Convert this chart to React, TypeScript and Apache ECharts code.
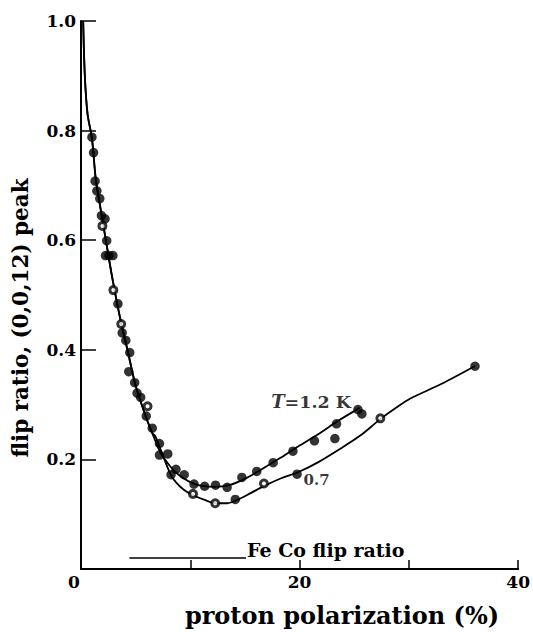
import React, { useEffect, useRef } from "react";
import * as echarts from "echarts";

// x: proton polarization (%), y: flip ratio
const steepCurve: number[][] = [
  [0.2, 1.0], [0.35, 0.9], [0.6, 0.83], [1.0, 0.786], [1.36, 0.71], [1.81, 0.655],
  [2.35, 0.591], [2.9, 0.527], [3.62, 0.454], [4.25, 0.4], [4.98, 0.336],
  [5.88, 0.281], [6.52, 0.248],
];
const upperBranch: number[][] = [
  [7.24, 0.2135], [8.14, 0.188], [9.05, 0.17], [10.41, 0.155], [12.22, 0.15],
  [13.57, 0.153], [14.93, 0.164], [16.29, 0.179], [18.1, 0.201], [19.9, 0.224],
  [21.7, 0.246], [23.5, 0.27], [25.5, 0.294],
];
const lowerBranch: number[][] = [
  [6.79, 0.2427], [7.51, 0.206], [8.33, 0.168], [9.32, 0.146], [10.23, 0.135],
  [11.31, 0.126], [12.31, 0.12], [13.39, 0.12], [14.3, 0.126], [15.57, 0.139],
  [16.92, 0.153], [18.37, 0.166], [19.91, 0.177], [21.72, 0.195], [23.53, 0.217],
  [25.52, 0.243], [27.42, 0.274], [28.96, 0.296], [30.14, 0.311], [33.0, 0.338],
  [36.02, 0.37],
];
const filledPoints: number[][] = [
  [1.0, 0.788], [1.15, 0.76], [1.29, 0.708], [1.45, 0.69], [1.72, 0.676],
  [1.87, 0.645], [2.2, 0.639], [2.35, 0.599], [2.24, 0.572], [2.56, 0.572],
  [2.92, 0.572], [3.38, 0.484], [3.77, 0.431], [4.1, 0.417], [4.46, 0.395],
  [4.37, 0.36], [4.91, 0.34], [5.13, 0.321], [5.46, 0.313], [5.97, 0.279],
  [6.52, 0.257], [7.18, 0.229], [7.18, 0.208], [7.94, 0.21], [8.24, 0.172],
  [8.69, 0.182], [9.44, 0.172], [10.34, 0.155], [11.31, 0.151], [12.31, 0.153],
  [13.37, 0.149], [14.72, 0.167], [16.08, 0.178], [17.58, 0.194], [19.39, 0.215],
  [21.36, 0.234], [23.38, 0.265], [25.34, 0.291], [25.7, 0.283], [14.12, 0.127],
  [19.77, 0.173], [23.23, 0.238], [36.05, 0.37],
];
const openPoints: number[][] = [
  [1.96, 0.626], [2.96, 0.509], [3.68, 0.447], [6.09, 0.297], [10.25, 0.137],
  [12.28, 0.12], [16.74, 0.156], [27.39, 0.275],
];
const feCoLine: number[][] = [[4.43, 0.02], [15.1, 0.02]];
const xTickLabels = ["0", "20", "40"];
const yTickLabels = ["0.2", "0.4", "0.6", "0.8", "1.0"];

const FONT = "DejaVu Serif";

export default function App() {
  const ref = useRef<HTMLDivElement>(null);
  useEffect(() => {
    const chart = echarts.init(ref.current!, null, { renderer: "svg" });
    chart.setOption({
      animation: false,
      backgroundColor: "#fff",
      grid: { left: 81, top: 21, width: 441, height: 548 },
      xAxis: {
        type: "value",
        min: 0,
        max: 40,
        interval: 10,
        axisLine: { lineStyle: { color: "#000", width: 2 } },
        axisTick: { inside: true, length: 9, lineStyle: { color: "#000", width: 1.5 } },
        axisLabel: {
          margin: 4,
          color: "#000",
          fontFamily: FONT,
          fontWeight: "bold",
          fontSize: 17,
          formatter: (v: number) => {
            const s = String(v);
            if (!xTickLabels.includes(s)) return "";
            return s === "0" ? "{z|0}" : s;
          },
          rich: {
            z: { fontFamily: FONT, fontWeight: "bold", fontSize: 17, color: "#000", padding: [0, 14, 0, 0] },
          },
        },
        splitLine: { show: false },
      },
      yAxis: {
        type: "value",
        min: 0,
        max: 1.0,
        interval: 0.2,
        axisLine: { show: true, lineStyle: { color: "#000", width: 2 } },
        axisTick: { show: true, inside: true, length: 15, lineStyle: { color: "#000", width: 1.5 } },
        axisLabel: {
          margin: 5,
          color: "#000",
          fontFamily: FONT,
          fontWeight: "bold",
          fontSize: 17,
          formatter: (v: number) => {
            const s = v.toFixed(1);
            return yTickLabels.includes(s) ? s : "";
          },
        },
        splitLine: { show: false },
      },
      graphic: [
        {
          type: "text",
          x: 20,
          y: 318,
          rotation: Math.PI / 2,
          style: {
            text: "flip ratio, (0,0,12) peak",
            font: `bold 21.5px "${FONT}"`,
            fill: "#000",
            textAlign: "center",
            textVerticalAlign: "middle",
          },
        },
        {
          type: "text",
          x: 342,
          y: 615,
          style: {
            text: "proton polarization (%)",
            font: `bold 24px "${FONT}"`,
            fill: "#000",
            textAlign: "center",
            textVerticalAlign: "middle",
          },
        },
      ],
      series: [
        {
          type: "line",
          data: steepCurve.concat(upperBranch),
          smooth: 0.3,
          showSymbol: false,
          lineStyle: { color: "#000", width: 1.8 },
          z: 2,
        },
        {
          type: "line",
          data: steepCurve.concat(lowerBranch),
          smooth: 0.3,
          showSymbol: false,
          lineStyle: { color: "#000", width: 1.8 },
          z: 2,
        },
        {
          type: "scatter",
          data: filledPoints,
          symbolSize: 9.5,
          itemStyle: { color: "#000" },
          z: 3,
        },
        {
          type: "scatter",
          data: openPoints,
          symbolSize: 7,
          itemStyle: { color: "#fff", borderColor: "#000", borderWidth: 3 },
          z: 4,
        },
        {
          type: "line",
          data: feCoLine,
          showSymbol: false,
          lineStyle: { color: "#000", width: 1.5 },
          label: { show: false },
          endLabel: {
            show: true,
            formatter: "Fe Co flip ratio",
            color: "#000",
            fontFamily: FONT,
            fontWeight: "bold",
            fontSize: 19,
            distance: 1,
            offset: [0, -8],
          },
        },
        {
          type: "scatter",
          symbolSize: 0,
          data: [
            { value: [17.4, 0.305], name: "T" },
            { value: [20.36, 0.162], name: "0.7" },
          ],
          label: {
            show: true,
            position: "right",
            distance: 0,
            color: "#000",
            fontFamily: FONT,
            fontWeight: "bold",
            fontSize: 17,
            formatter: (p: any) => (p.name === "T" ? "{i|T}{n|=1.2 K}" : "{s|0.7}"),
            rich: {
              i: { fontStyle: "italic", fontWeight: "bold", fontFamily: FONT, fontSize: 18, color: "#000" },
              n: { fontWeight: "bold", fontFamily: FONT, fontSize: 17.5, color: "#000" },
              s: { fontWeight: "bold", fontFamily: FONT, fontSize: 15, color: "#000" },
            },
          },
          silent: true,
        },
      ],
    });
    return () => chart.dispose();
  }, []);
  return (
    <div
      ref={ref}
      style={{ position: "absolute", left: 0, top: 0, width: 533, height: 632 }}
    />
  );
}
